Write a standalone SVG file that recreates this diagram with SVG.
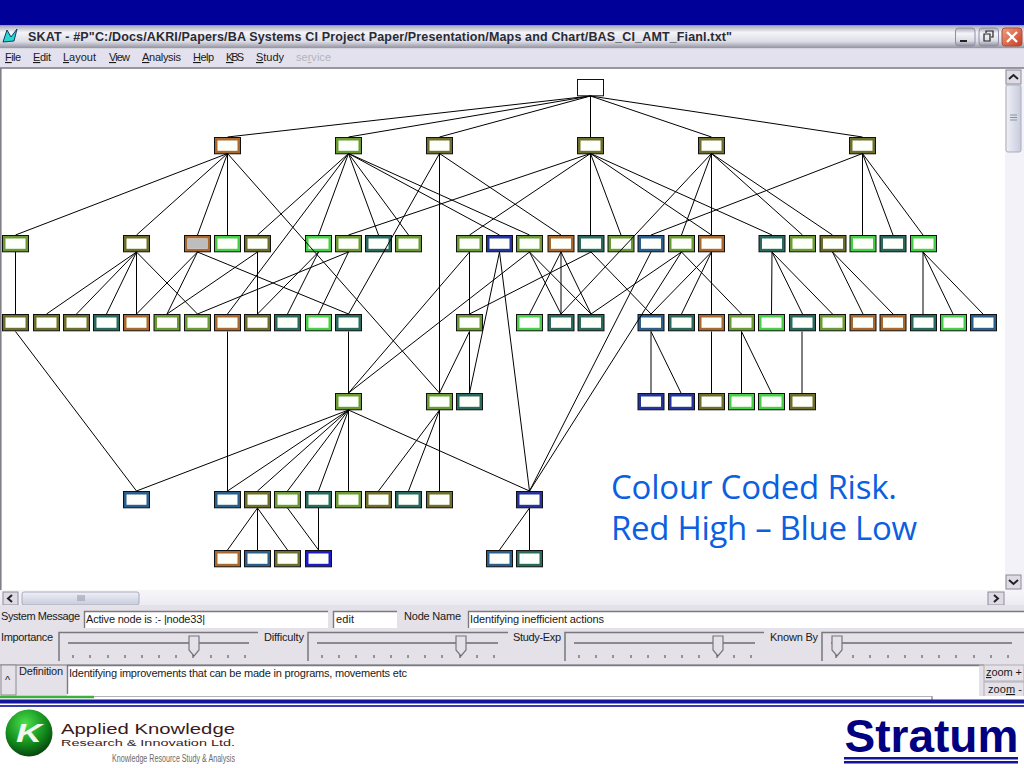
<svg xmlns="http://www.w3.org/2000/svg" width="1024" height="768" viewBox="0 0 1024 768">
<style>
text{font-family:"Liberation Sans",Arial,sans-serif;fill:#1a1a1a}
.ui{font-size:11px}
.u{text-decoration:underline}
.edge line{stroke:#000;stroke-width:1}
.ol{color:#6e6e2c}.gr{color:#6a9a34}.br{color:#46cf46}.te{color:#2a6a5c}.or{color:#a8682e}.na{color:#24349c}.st{color:#2a5f8c}.vi{color:#1c1cc4}
.inp{fill:#fff}
.ie{fill:none;stroke:#7a7a80;stroke-width:1.4}
.fr{fill:none;stroke:#77777c;stroke-width:1.5}
.trk{stroke:#8a8a8e;stroke-width:2}
.thumb{fill:#e4e1e8;stroke:#77777c;stroke-width:1.2}
.tk{stroke:#444;stroke-width:1}
.btn{fill:#dedbe6;stroke:#8c8c98;stroke-width:1}
</style>
<defs>
<linearGradient id="tb" x1="0" y1="0" x2="0" y2="1"><stop offset="0" stop-color="#a8a8b8"/><stop offset=".3" stop-color="#f4f4f8"/><stop offset=".7" stop-color="#dcdce6"/><stop offset="1" stop-color="#8e8e9c"/></linearGradient>
<linearGradient id="sb" x1="0" y1="0" x2="0" y2="1"><stop offset="0" stop-color="#f6f6fa"/><stop offset="1" stop-color="#ecebf2"/></linearGradient>
<linearGradient id="th" x1="0" y1="0" x2="0" y2="1"><stop offset="0" stop-color="#eef0f6"/><stop offset="1" stop-color="#c8ccdc"/></linearGradient>
<linearGradient id="tv" x1="0" y1="0" x2="1" y2="0"><stop offset="0" stop-color="#eef0f6"/><stop offset="1" stop-color="#c8ccdc"/></linearGradient>
<linearGradient id="cl" x1="0" y1="0" x2="1" y2="1"><stop offset="0" stop-color="#f0a080"/><stop offset="1" stop-color="#c83c20"/></linearGradient>
<radialGradient id="ball" cx=".42" cy=".3" r=".75"><stop offset="0" stop-color="#4ce04c"/><stop offset=".6" stop-color="#128a1c"/><stop offset="1" stop-color="#063a0c"/></radialGradient>
<g id="box"><rect x=".5" y=".5" width="26" height="16.3" fill="currentColor" stroke="#111" stroke-width="1"/><rect x="3.5" y="3.5" width="20" height="10.3" fill="#fdfffa"/></g>
</defs>

<rect width="1024" height="768" fill="#fff"/>
<rect width="1024" height="25.5" fill="#000099"/>

<g id="window-chrome">
<rect x="0" y="25.5" width="1024" height="23" fill="url(#tb)"/>
<path d="M3 42 L7 30 L11 37 L17 29 L14 41 Z" fill="#28d8d0" stroke="#123a6a" stroke-width="1"/>
<text x="28" y="41" font-size="12.5" font-weight="700" textLength="704" lengthAdjust="spacing" style="fill:#2a2a34">SKAT - #P"C:/Docs/AKRI/Papers/BA Systems CI Project Paper/Presentation/Maps and Chart/BAS_CI_AMT_Fianl.txt"</text>
<rect x="955.500" y="28" width="19.500" height="18" rx="3" fill="url(#tb)" stroke="#8e8ea4"/>
<path d="M960 41H967" stroke="#222" stroke-width="2"/>
<rect x="979" y="28" width="19.500" height="18" rx="3" fill="url(#tb)" stroke="#8e8ea4"/>
<path d="M986 33V31H993V37H991M984 34H990V41H984Z" fill="none" stroke="#222" stroke-width="1.200"/>
<rect x="1002" y="28" width="20" height="18" rx="3" fill="url(#cl)" stroke="#a05040"/>
<path d="M1007 32L1017 42M1017 32L1007 42" stroke="#fff" stroke-width="2.400"/>
<rect x="0" y="48.500" width="1024" height="19" fill="#e3e1ee"/>
<path d="M0 68H1024" stroke="#77777f" stroke-width="1.500"/>
<g class="ui">
<text x="5" y="61" textLength="16"><tspan class="u">F</tspan>ile</text>
<text x="33" y="61" textLength="18"><tspan class="u">E</tspan>dit</text>
<text x="63" y="61" textLength="33"><tspan class="u">L</tspan>ayout</text>
<text x="109" y="61" textLength="21"><tspan class="u">V</tspan>iew</text>
<text x="142" y="61" textLength="39"><tspan class="u">A</tspan>nalysis</text>
<text x="193" y="61" textLength="21"><tspan class="u">H</tspan>elp</text>
<text x="226" y="61" textLength="18"><tspan class="u">K</tspan>BS</text>
<text x="256" y="61" textLength="28"><tspan class="u">S</tspan>tudy</text>
<text x="296" y="61" textLength="35" style="fill:#b4b4b8">se<tspan class="u">r</tspan>vice</text>
</g>
<path d="M.8 68V590" stroke="#808088" stroke-width="1.600"/>
<rect x="1005" y="69" width="19" height="521" fill="#f2f2f8"/>
<rect x="1006" y="70" width="15" height="14" class="btn"/>
<path d="M1009 79L1013.500 75L1018 79" fill="none" stroke="#222" stroke-width="2"/>
<rect x="1006" y="85" width="15" height="67" rx="2" fill="url(#tv)" stroke="#a8acbc"/>
<path d="M1010 115H1017M1010 117.500H1017M1010 120H1017" stroke="#8e92a4"/>
<rect x="1006" y="575" width="15" height="14" class="btn"/>
<path d="M1009 580L1013.500 584L1018 580" fill="none" stroke="#222" stroke-width="2"/>
<rect x="0" y="590" width="1024" height="15" fill="url(#sb)"/>
<rect x="3" y="592" width="15" height="13" class="btn"/>
<path d="M12 595L8 598.500L12 602" fill="none" stroke="#222" stroke-width="2"/>
<rect x="22" y="592" width="117" height="13" rx="2" fill="url(#th)" stroke="#a8acbc"/>
<path d="M78 595V601M80 595V601M82 595V601M84 595V601" stroke="#8e92a4"/>
<rect x="988" y="592" width="16" height="13" class="btn"/>
<path d="M994 595L998 598.500L994 602" fill="none" stroke="#222" stroke-width="2"/>
</g>

<g id="nodes">
<g id="root"><rect x="577.500" y="79.500" width="26" height="16.300" fill="#fff" stroke="#111"/></g>
<use id="a1" href="#box" x="214" y="137" class="or"/>
<use id="a2" href="#box" x="335" y="137" class="gr"/>
<use id="a3" href="#box" x="426" y="137" class="ol"/>
<use id="a4" href="#box" x="577" y="137" class="ol"/>
<use id="a5" href="#box" x="698" y="137" class="ol"/>
<use id="a6" href="#box" x="849" y="137" class="ol"/>

<use id="b1" href="#box" x="2" y="235" class="gr"/>
<use id="b2" href="#box" x="123" y="235" class="ol"/>
<g id="b3" class="or" transform="translate(184 235)"><use href="#box"/><rect x="3.500" y="3.500" width="20" height="10.300" fill="#bdbdbd"/></g>
<use id="b4" href="#box" x="214" y="235" class="br"/>
<use id="b5" href="#box" x="244" y="235" class="ol"/>
<use id="b6" href="#box" x="305" y="235" class="br"/>
<use id="b7" href="#box" x="335" y="235" class="gr"/>
<use id="b8" href="#box" x="365" y="235" class="te"/>
<use id="b9" href="#box" x="395" y="235" class="gr"/>
<use id="b10" href="#box" x="456" y="235" class="gr"/>
<use id="b11" href="#box" x="486" y="235" class="na"/>
<use id="b12" href="#box" x="516" y="235" class="gr"/>
<use id="b13" href="#box" x="547.500" y="235" class="or"/>
<use id="b14" href="#box" x="577.500" y="235" class="te"/>
<use id="b15" href="#box" x="607.500" y="235" class="gr"/>
<use id="b16" href="#box" x="637.500" y="235" class="st"/>
<use id="b17" href="#box" x="668" y="235" class="gr"/>
<use id="b18" href="#box" x="698" y="235" class="or"/>
<use id="b19" href="#box" x="758.500" y="235" class="te"/>
<use id="b20" href="#box" x="789" y="235" class="gr"/>
<use id="b21" href="#box" x="819.500" y="235" class="ol"/>
<use id="b22" href="#box" x="849.500" y="235" class="br"/>
<use id="b23" href="#box" x="879.500" y="235" class="te"/>
<use id="b24" href="#box" x="910" y="235" class="br"/>

<use id="c1" href="#box" x="2" y="314" class="ol"/>
<use id="c2" href="#box" x="33" y="314" class="ol"/>
<use id="c3" href="#box" x="63" y="314" class="ol"/>
<use id="c4" href="#box" x="93" y="314" class="te"/>
<use id="c5" href="#box" x="123" y="314" class="or"/>
<use id="c6" href="#box" x="153.500" y="314" class="gr"/>
<use id="c7" href="#box" x="184" y="314" class="gr"/>
<use id="c8" href="#box" x="214" y="314" class="or"/>
<use id="c9" href="#box" x="244" y="314" class="ol"/>
<use id="c10" href="#box" x="274" y="314" class="te"/>
<use id="c11" href="#box" x="305" y="314" class="br"/>
<use id="c12" href="#box" x="335" y="314" class="te"/>
<use id="c13" href="#box" x="456" y="314" class="gr"/>
<use id="c14" href="#box" x="516" y="314" class="br"/>
<use id="c15" href="#box" x="547.500" y="314" class="te"/>
<use id="c16" href="#box" x="577.500" y="314" class="te"/>
<use id="c17" href="#box" x="637.500" y="314" class="st"/>
<use id="c18" href="#box" x="668" y="314" class="te"/>
<use id="c19" href="#box" x="698" y="314" class="or"/>
<use id="c20" href="#box" x="728" y="314" class="gr"/>
<use id="c21" href="#box" x="758" y="314" class="br"/>
<use id="c22" href="#box" x="789" y="314" class="te"/>
<use id="c23" href="#box" x="819" y="314" class="gr"/>
<use id="c24" href="#box" x="849.500" y="314" class="or"/>
<use id="c25" href="#box" x="879.500" y="314" class="or"/>
<use id="c26" href="#box" x="910" y="314" class="te"/>
<use id="c27" href="#box" x="940" y="314" class="br"/>
<use id="c28" href="#box" x="970" y="314" class="st"/>

<use id="d1" href="#box" x="335" y="393" class="gr"/>
<use id="d2" href="#box" x="426" y="393" class="gr"/>
<use id="d3" href="#box" x="456" y="393" class="te"/>
<use id="d4" href="#box" x="637.500" y="393" class="na"/>
<use id="d5" href="#box" x="668" y="393" class="na"/>
<use id="d6" href="#box" x="698" y="393" class="ol"/>
<use id="d7" href="#box" x="728" y="393" class="br"/>
<use id="d8" href="#box" x="758" y="393" class="br"/>
<use id="d9" href="#box" x="789" y="393" class="ol"/>

<use id="e1" href="#box" x="123" y="491" class="st"/>
<use id="e2" href="#box" x="214" y="491" class="st"/>
<use id="e3" href="#box" x="244" y="491" class="ol"/>
<use id="e4" href="#box" x="274" y="491" class="gr"/>
<use id="e5" href="#box" x="305" y="491" class="te"/>
<use id="e6" href="#box" x="335" y="491" class="gr"/>
<use id="e7" href="#box" x="365" y="491" class="ol"/>
<use id="e8" href="#box" x="395" y="491" class="te"/>
<use id="e9" href="#box" x="426" y="491" class="ol"/>
<use id="e10" href="#box" x="516" y="491" class="na"/>

<use id="f1" href="#box" x="214" y="550" class="or"/>
<use id="f2" href="#box" x="244" y="550" class="st"/>
<use id="f3" href="#box" x="274" y="550" class="ol"/>
<use id="f4" href="#box" x="305" y="550" class="vi"/>
<use id="f5" href="#box" x="486" y="550" class="st"/>
<use id="f6" href="#box" x="516" y="550" class="te"/>
</g>

<g id="connectors" class="edge">
<line x1="590.500" y1="96" x2="227.500" y2="137"/><line x1="590.500" y1="96" x2="348.500" y2="137"/><line x1="590.500" y1="96" x2="439.500" y2="137"/><line x1="590.500" y1="96" x2="590.500" y2="137"/><line x1="590.500" y1="96" x2="711.500" y2="137"/><line x1="590.500" y1="96" x2="862.500" y2="137"/>

<line x1="227.500" y1="153.500" x2="15.500" y2="235"/><line x1="227.500" y1="153.500" x2="136.500" y2="235"/><line x1="227.500" y1="153.500" x2="197.500" y2="235"/><line x1="227.500" y1="153.500" x2="227.500" y2="235"/><line x1="227.500" y1="153.500" x2="439.500" y2="393"/>
<line x1="348.500" y1="153.500" x2="257.500" y2="235"/><line x1="348.500" y1="153.500" x2="227.500" y2="314"/><line x1="348.500" y1="153.500" x2="318.500" y2="235"/><line x1="348.500" y1="153.500" x2="378.500" y2="235"/><line x1="348.500" y1="153.500" x2="408.500" y2="235"/><line x1="348.500" y1="153.500" x2="499.500" y2="235"/><line x1="348.500" y1="153.500" x2="529.500" y2="235"/>
<line x1="439.500" y1="153.500" x2="439.500" y2="393"/><line x1="439.500" y1="153.500" x2="348.500" y2="314"/><line x1="439.500" y1="153.500" x2="561" y2="235"/>
<line x1="590.500" y1="153.500" x2="348.500" y2="235"/><line x1="590.500" y1="153.500" x2="469.500" y2="235"/><line x1="590.500" y1="153.500" x2="590.500" y2="235"/><line x1="590.500" y1="153.500" x2="621" y2="235"/><line x1="590.500" y1="153.500" x2="711.500" y2="235"/><line x1="590.500" y1="153.500" x2="772" y2="235"/>
<line x1="711.500" y1="153.500" x2="561" y2="314"/><line x1="711.500" y1="153.500" x2="681.500" y2="235"/><line x1="711.500" y1="153.500" x2="711.500" y2="235"/><line x1="711.500" y1="153.500" x2="802.500" y2="235"/><line x1="711.500" y1="153.500" x2="832.500" y2="235"/>
<line x1="862.500" y1="153.500" x2="651" y2="235"/><line x1="862.500" y1="153.500" x2="862.500" y2="235"/><line x1="862.500" y1="153.500" x2="893" y2="235"/><line x1="862.500" y1="153.500" x2="923" y2="235"/>

<line x1="15.500" y1="252" x2="15.500" y2="314"/>
<line x1="136.500" y1="252" x2="46.500" y2="314"/><line x1="136.500" y1="252" x2="76.500" y2="314"/><line x1="136.500" y1="252" x2="106.500" y2="314"/><line x1="136.500" y1="252" x2="136.500" y2="314"/><line x1="136.500" y1="252" x2="197.500" y2="314"/>
<line x1="197.500" y1="252" x2="136.500" y2="314"/><line x1="197.500" y1="252" x2="167" y2="314"/><line x1="197.500" y1="252" x2="348.500" y2="314"/>
<line x1="257.500" y1="252" x2="167" y2="314"/><line x1="257.500" y1="252" x2="257.500" y2="314"/>
<line x1="318.500" y1="252" x2="257.500" y2="314"/><line x1="318.500" y1="252" x2="287.500" y2="314"/>
<line x1="348.500" y1="252" x2="197.500" y2="314"/><line x1="348.500" y1="252" x2="318.500" y2="314"/>
<line x1="469.500" y1="252" x2="469.500" y2="314"/><line x1="469.500" y1="252" x2="348.500" y2="393"/>
<line x1="499.500" y1="252" x2="469.500" y2="393"/><line x1="499.500" y1="252" x2="529.500" y2="491"/>
<line x1="529.500" y1="252" x2="348.500" y2="393"/><line x1="529.500" y1="252" x2="561" y2="314"/><line x1="529.500" y1="252" x2="591" y2="314"/>
<line x1="561" y1="252" x2="529.500" y2="314"/><line x1="561" y1="252" x2="561" y2="314"/><line x1="561" y1="252" x2="591" y2="314"/>
<line x1="591" y1="252" x2="469.500" y2="314"/><line x1="591" y1="252" x2="651" y2="314"/>
<line x1="651" y1="252" x2="529.500" y2="491"/>
<line x1="681.500" y1="252" x2="591" y2="314"/><line x1="681.500" y1="252" x2="529.500" y2="491"/><line x1="681.500" y1="252" x2="741.500" y2="314"/>
<line x1="711.500" y1="252" x2="651" y2="314"/><line x1="711.500" y1="252" x2="681.500" y2="314"/><line x1="711.500" y1="252" x2="711.500" y2="314"/>
<line x1="772" y1="252" x2="771.500" y2="314"/><line x1="772" y1="252" x2="802.500" y2="314"/><line x1="772" y1="252" x2="832.500" y2="314"/>
<line x1="832.500" y1="252" x2="863" y2="314"/><line x1="832.500" y1="252" x2="893" y2="314"/>
<line x1="923" y1="252" x2="923" y2="314"/><line x1="923" y1="252" x2="953" y2="314"/><line x1="923" y1="252" x2="983" y2="314"/>

<line x1="15.500" y1="331.500" x2="136.500" y2="491"/>
<line x1="227.500" y1="331.500" x2="227.500" y2="491"/>
<line x1="348.500" y1="331.500" x2="348.500" y2="393"/>
<line x1="469.500" y1="331.500" x2="439.500" y2="393"/><line x1="469.500" y1="331.500" x2="469.500" y2="393"/>
<line x1="651" y1="331.500" x2="651" y2="393"/><line x1="651" y1="331.500" x2="681" y2="393"/>
<line x1="711.500" y1="331.500" x2="711.500" y2="393"/>
<line x1="741.500" y1="331.500" x2="741.500" y2="393"/><line x1="741.500" y1="331.500" x2="771.500" y2="393"/>
<line x1="802" y1="331.500" x2="802" y2="393"/>

<line x1="348.500" y1="410" x2="136.500" y2="491"/><line x1="348.500" y1="410" x2="227.500" y2="491"/><line x1="348.500" y1="410" x2="257.500" y2="491"/><line x1="348.500" y1="410" x2="287.500" y2="491"/><line x1="348.500" y1="410" x2="318.500" y2="491"/><line x1="348.500" y1="410" x2="348.500" y2="491"/><line x1="348.500" y1="410" x2="529.500" y2="491"/>
<line x1="439.500" y1="410" x2="378.500" y2="491"/><line x1="439.500" y1="410" x2="408.500" y2="491"/><line x1="439.500" y1="410" x2="439.500" y2="491"/>

<line x1="257.500" y1="508" x2="227.500" y2="550"/><line x1="257.500" y1="508" x2="257.500" y2="550"/><line x1="257.500" y1="508" x2="287.500" y2="550"/>
<line x1="287.500" y1="508" x2="318.500" y2="550"/><line x1="318.500" y1="508" x2="318.500" y2="550"/>
<line x1="529.500" y1="508" x2="499.500" y2="550"/><line x1="529.500" y1="508" x2="529.500" y2="550"/>
</g>

<g id="caption">
<text x="611" y="499" font-size="33" textLength="286" style="font-family:'Open Sans','Liberation Sans',sans-serif;fill:#0b5fe0">Colour Coded Risk.</text>
<text x="611" y="540" font-size="33" textLength="306" style="font-family:'Open Sans','Liberation Sans',sans-serif;fill:#0b5fe0">Red High – Blue Low</text>
</g>

<g id="panel">
<rect x="0" y="605" width="1024" height="92" fill="#e4e1e8"/>
<g class="ui">
<text x="1" y="620" textLength="79">System Message</text>
<rect x="84" y="611" width="244" height="17" class="inp"/><path class="ie" d="M84.500 628V611.500H328"/>
<text x="86" y="623" textLength="119">Active node is :- |node33|</text>
<rect x="333" y="611" width="64" height="17" class="inp"/><path class="ie" d="M333.500 628V611.500H397"/>
<text x="336" y="623" textLength="18">edit</text>
<text x="404" y="620" textLength="57">Node Name</text>
<rect x="468" y="611" width="556" height="17" class="inp"/><path class="ie" d="M468.500 628V611.500H1024"/>
<text x="470" y="623" textLength="134">Identifying inefficient actions</text>

<text x="1" y="641" textLength="52">Importance</text>
<path class="fr" d="M59 661V632.500H258"/>
<path class="trk" d="M68 643H249"/>
<path class="thumb" d="M189 636H199V650L194 656L189 650Z"/>
<path class="tk" d="M73 655v3M90 655v3M108 655v3M125 655v3M142 655v3M159 655v3M176 655v3M193 655v3M211 655v3M228 655v3M245 655v3"/>

<text x="264" y="641" textLength="40">Difficulty</text>
<path class="fr" d="M308 661V632.500H508"/>
<path class="trk" d="M317 643H498"/>
<path class="thumb" d="M456 636H466V650L461 656L456 650Z"/>
<path class="tk" d="M322 655v3M339 655v3M356 655v3M374 655v3M391 655v3M408 655v3M425 655v3M442 655v3M460 655v3M477 655v3M494 655v3"/>

<text x="513" y="641" textLength="48">Study-Exp</text>
<path class="fr" d="M565 661V632.500H764"/>
<path class="trk" d="M574 643H755"/>
<path class="thumb" d="M713 636H723V650L718 656L713 650Z"/>
<path class="tk" d="M579 655v3M596 655v3M613 655v3M631 655v3M648 655v3M665 655v3M682 655v3M699 655v3M717 655v3M734 655v3M751 655v3"/>

<text x="770" y="641" textLength="48">Known By</text>
<path class="fr" d="M822 661V632.500H1024"/>
<path class="trk" d="M831 643H1012"/>
<path class="thumb" d="M832 636H842V650L837 656L832 650Z"/>
<path class="tk" d="M836 655v3M853 655v3M870 655v3M888 655v3M905 655v3M922 655v3M939 655v3M956 655v3M974 655v3M991 655v3M1008 655v3"/>

<path d="M0 665H984" stroke="#77777c"/>
<rect x="1" y="665" width="15" height="30" fill="#e4e1e8" stroke="#8c8c90"/>
<text x="5" y="684" textLength="7">^</text>
<text x="19" y="675" textLength="44">Definition</text>
<rect x="67" y="665" width="912" height="31" class="inp"/><path class="ie" d="M67.500 694V665.500H979"/>
<text x="69" y="677" textLength="338">Identifying improvements that can be made in programs, movements etc</text>
<rect x="984" y="665" width="40" height="16" fill="#e4e1e8" stroke="#b0b0b4"/>
<text x="986" y="676" textLength="36"><tspan class="u">z</tspan>oom +</text>
<rect x="984" y="682" width="40" height="15" fill="#e4e1e8" stroke="#b0b0b4"/>
<text x="988" y="693" textLength="34">zoo<tspan class="u">m</tspan> -</text>
</g>
<rect x="0" y="696" width="1024" height="3" fill="#fff"/>
<path d="M0 697H94" stroke="#3cb03c" stroke-width="2.500"/>
<path d="M932 696V700" stroke="#666"/>
<path d="M94 696.500H932" stroke="#a0a0a8" stroke-width=".8"/>
</g>

<g id="rule">
<rect x="0" y="699.500" width="1024" height="4" fill="#14149a"/>
<rect x="0" y="705" width="1024" height="2" fill="#3a3ab0"/>
</g>

<g id="logo-akri">
<circle cx="29" cy="733" r="23.500" fill="url(#ball)"/>
<text x="16" y="742" font-size="25" font-weight="700" font-style="italic" textLength="26" lengthAdjust="spacingAndGlyphs" style="fill:#eef8ee">K</text>
<text x="61" y="734" font-size="14.500" textLength="174" lengthAdjust="spacingAndGlyphs" style="fill:#3c1a1c">Applied Knowledge</text>
<text x="61" y="745.800" font-size="9.200" textLength="174" lengthAdjust="spacingAndGlyphs" style="fill:#3c1a1c">Research &amp; Innovation Ltd.</text>
<text x="112" y="762" font-size="10" textLength="123" lengthAdjust="spacingAndGlyphs" style="fill:#6a6a6a">Knowledge Resource Study &amp; Analysis</text>
</g>

<g id="logo-stratum">
<text x="844.500" y="752" font-size="46" font-weight="700" style="fill:#000080">Stratum</text>
<rect x="844" y="757" width="174" height="2.500" fill="#14149a"/>
<rect x="844" y="761" width="174" height="2.500" fill="#14149a"/>
</g>
</svg>
